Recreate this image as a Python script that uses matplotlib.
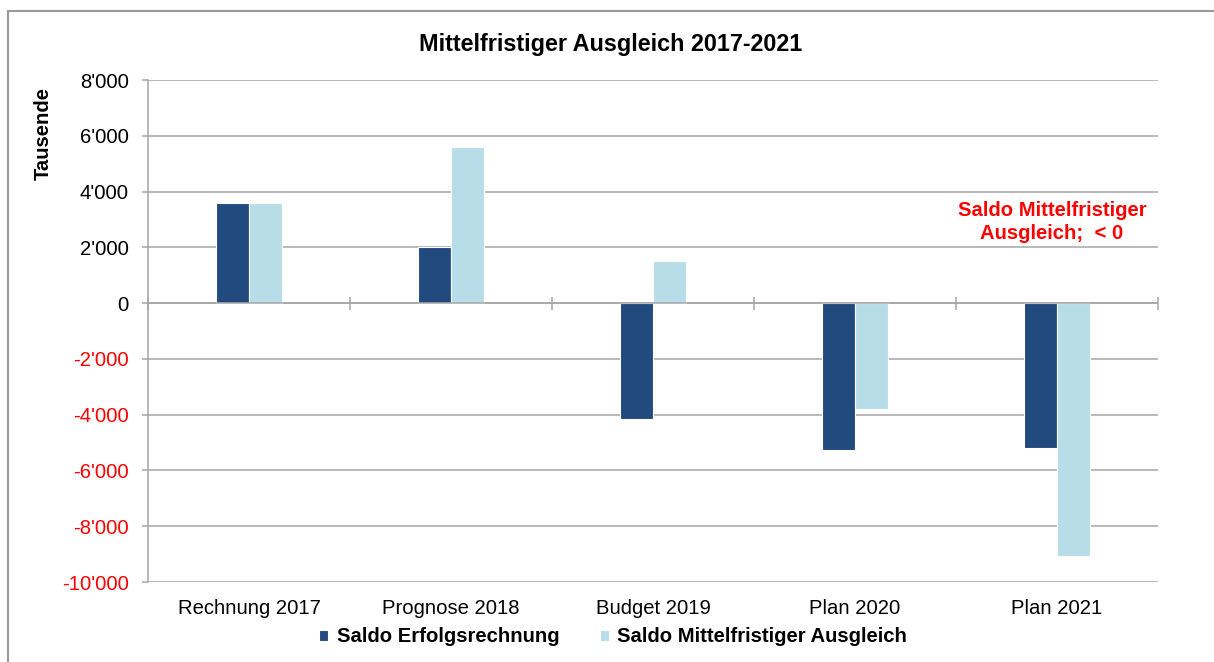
import matplotlib
matplotlib.use("Agg")
import matplotlib.pyplot as plt
from matplotlib.lines import Line2D
from matplotlib.ticker import FuncFormatter
import numpy as np

plt.rcParams['font.family'] = ['Liberation Sans', 'DejaVu Sans']

categories = ["Rechnung 2017", "Prognose 2018", "Budget 2019", "Plan 2020", "Plan 2021"]
saldo_erfolg = [3600, 2000, -4150, -5250, -5200]
saldo_mittelfristig = [3600, 5600, 1500, -3800, -9050]
series_names = ["Saldo Erfolgsrechnung", "Saldo Mittelfristiger Ausgleich"]
y_ticks = [8000, 6000, 4000, 2000, 0, -2000, -4000, -6000, -8000, -10000]

dark = "#214A7E"
light = "#B7DEE8"
grid_c = "#A6A6A6"

fig = plt.figure(figsize=(12.14, 6.62), dpi=100)
ax = fig.add_axes([148/1214, 1-582/662, 1010/1214, 502/662])

x = np.arange(len(categories))
w = 0.163
b1 = ax.bar(x - w/2, saldo_erfolg, w, color=dark, edgecolor="white", linewidth=0.8, label=series_names[0], zorder=3)
b2 = ax.bar(x + w/2, saldo_mittelfristig, w, color=light, edgecolor="white", linewidth=0.8, label=series_names[1], zorder=3)

ax.set_xlim(-0.5, len(categories) - 0.5)
ax.set_ylim(-10000, 8000)
ax.set_yticks(y_ticks)
ax.yaxis.set_major_formatter(FuncFormatter(lambda v, p: f"{int(v):,}".replace(",", "'")))
ax.grid(axis="y", color=grid_c, linewidth=1.1, zorder=0)
ax.tick_params(axis="y", length=4, color=grid_c, width=1.1, pad=10, labelsize=14.6)
for lbl, v in zip(ax.get_yticklabels(), y_ticks):
    lbl.set_color("red" if v < 0 else "black")
ax.set_xticks(x)
ax.set_xticklabels(categories)
ax.tick_params(axis="x", length=0, pad=12, labelsize=14.6)
for s in ["top", "right", "bottom"]:
    ax.spines[s].set_visible(False)
ax.spines["left"].set_color(grid_c)
ax.spines["left"].set_linewidth(1.1)

# zero line with category boundary ticks
ax.axhline(0, color=grid_c, linewidth=1.1, zorder=4)
zfrac = (0 - (-10000)) / 18000
ax.vlines(np.arange(len(categories) + 1) - 0.5, zfrac - 0.013, zfrac + 0.013,
          transform=ax.get_xaxis_transform(), color=grid_c, linewidth=1.1, zorder=4, clip_on=False)

ax.text(0.895, 0.717, "Saldo Mittelfristiger\nAusgleich;  < 0", transform=ax.transAxes,
        color="red", fontsize=14.6, fontweight="bold", ha="center", va="center",
        multialignment="center", linespacing=1.3)

fig.text(0.503, 1-44/662, "Mittelfristiger Ausgleich 2017-2021", ha="center", va="center",
         fontsize=16.8, fontweight="bold")
fig.text(43/1214, 1-134/662, "Tausende", rotation=90, ha="center", va="center",
         fontsize=14.6, fontweight="bold")

leg = fig.legend(handles=[b1, b2], loc="center", bbox_to_anchor=(0.505, 1-637/662), ncol=2,
                 frameon=False, prop={"weight": "bold", "size": 14.6}, handlelength=0.45,
                 handleheight=0.45, handletextpad=0.4, columnspacing=2.0)

# figure frame
fig.add_artist(Line2D([8/1214, 8/1214], [0, 1-11/662], transform=fig.transFigure, color="#9A9A9A", linewidth=1.5))
fig.add_artist(Line2D([8/1214, 1], [1-11/662, 1-11/662], transform=fig.transFigure, color="#9A9A9A", linewidth=1.5))

fig.savefig("out.png", dpi=100)
